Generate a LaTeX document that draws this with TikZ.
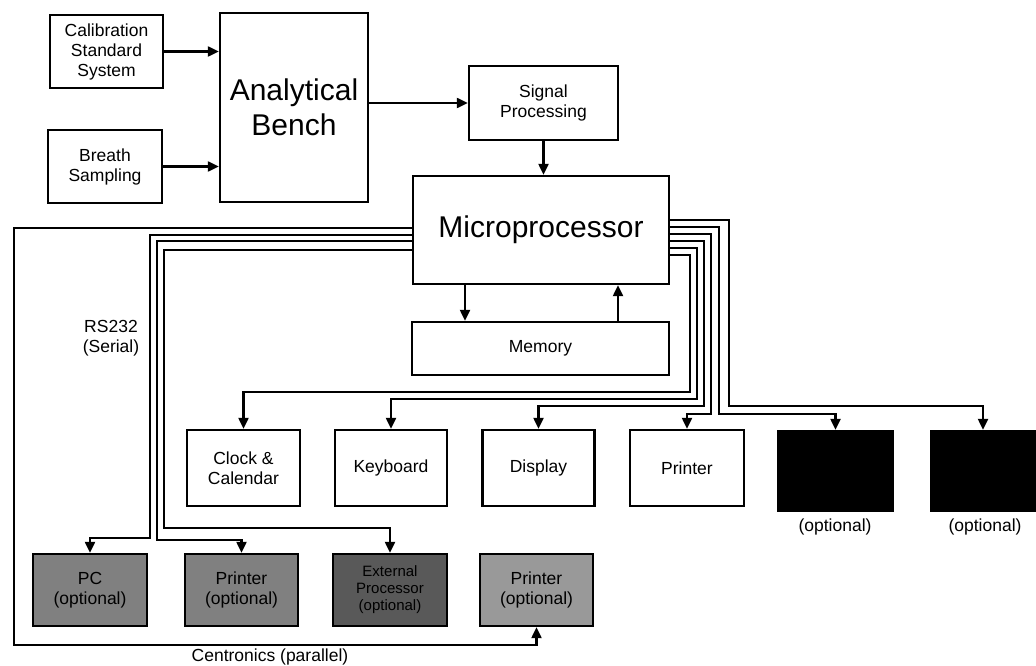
\documentclass[tikz,border=0pt]{standalone}
\usepackage{fontspec}
\setmainfont{Liberation Sans}
\usetikzlibrary{arrows.meta}
\newcommand\smtxt{\fontsize{17.5}{20}\selectfont}
\newcommand\bigtxt{\fontsize{30}{35}\selectfont}
\begin{document}
\begin{tikzpicture}[x=1pt,y=-1pt,
  box/.style={draw=black, line width=2.3pt, align=center, inner sep=0pt, font=\smtxt},
  optbox/.style={box, fill=black},
  grbox/.style={box, fill=black!50},
  ln/.style={line width=2.1pt},
  arr/.style={line width=2.1pt, -{Triangle[length=11pt,width=10pt]}},
  lbl/.style={font=\smtxt, align=center, inner sep=0pt}
]
\fill[white] (0,0) rectangle (1036,666);
\useasboundingbox (0,0) rectangle (1036,666);

% top part
\node[box, minimum width=113pt, minimum height=73pt] (cal) at (106.5,51.5) {Calibration\\Standard\\System};
\node[box, minimum width=114pt, minimum height=73pt] (breath) at (105,166.5) {Breath\\Sampling};
\node[box, minimum width=148pt, minimum height=189pt, font=\bigtxt] (bench) at (294,107.5) {Analytical\\Bench};
\node[box, minimum width=149pt, minimum height=74pt] (signal) at (543.5,103) {Signal\\Processing};
\node[box, minimum width=256pt, minimum height=108pt, font=\bigtxt] (micro) at (541,230) {Microprocessor};
\node[box, minimum width=257pt, minimum height=53pt] (mem) at (540.5,348.5) {Memory};

% top row peripherals
\node[box, minimum width=113pt, minimum height=76pt] (clock) at (243.5,468) {Clock \&\\Calendar};
\node[box, minimum width=112pt, minimum height=76pt] (kb) at (391,468) {Keyboard};
\node[box, minimum width=112pt, minimum height=76pt] (disp) at (538.5,468) {Display};
\node[box, minimum width=114pt, minimum height=76pt] (prn) at (687,468) {Printer};
\node[optbox, minimum width=115pt, minimum height=80pt] (o1) at (835.5,471) {};
\node[optbox, minimum width=104pt, minimum height=80pt] (o2) at (983,471) {};
\node[lbl] (o1l) at (835,527) {(optional)};
\node[lbl] (o2l) at (985,527) {(optional)};

% bottom row optional
\node[grbox, minimum width=114pt, minimum height=72pt] (pc) at (90,590) {PC\\(optional)};
\node[grbox, minimum width=113pt, minimum height=72pt] (pr2) at (241.5,590) {Printer\\(optional)};
\node[box, fill=black!65, minimum width=114pt, minimum height=72pt, font=\fontsize{15}{17}\selectfont] (ext) at (390,590) {External\\Processor\\(optional)};
\node[box, fill=black!40, minimum width=113pt, minimum height=72pt] (popt) at (536.5,590) {Printer\\(optional)};

\node[lbl] (rs) at (111,338) {RS232\\(Serial)};
\node[lbl] (cen) at (270,657) {Centronics (parallel)};

% main chain
\draw[arr] (cal.east) -- (cal.east -| bench.west);
\draw[arr] (breath.east) -- (breath.east -| bench.west);
\draw[arr] (bench.east |- signal.west) -- (signal.west);
\draw[arr] (signal.south) -- (signal.south |- micro.north);
\draw[arr] (micro.south -| 465,0) -- (mem.north -| 465,0);
\draw[arr] (mem.north -| 618,0) -- (micro.south -| 618,0);

% left bundle
\draw[arr] (micro.west |- 0,228) -| (14,645) -| (popt.south);
\draw[arr] (micro.west |- 0,235) -| (150,538) -| (pc.north);
\draw[arr] (micro.west |- 0,241) -| (157,540) -| (pr2.north);
\draw[arr] (micro.west |- 0,250) -| (164,528) -| (ext.north);

% right bundle
\draw[arr] (micro.east |- 0,255) -| (690,392) -| (clock.north);
\draw[arr] (micro.east |- 0,248) -| (697,399) -| (kb.north);
\draw[arr] (micro.east |- 0,241) -| (704,406) -| (disp.north);
\draw[arr] (micro.east |- 0,234) -| (711,414) -| (prn.north);
\draw[arr] (micro.east |- 0,227) -| (719,414) -| (o1.north);
\draw[arr] (micro.east |- 0,220) -| (729,406) -| (o2.north);
\end{tikzpicture}
\end{document}
